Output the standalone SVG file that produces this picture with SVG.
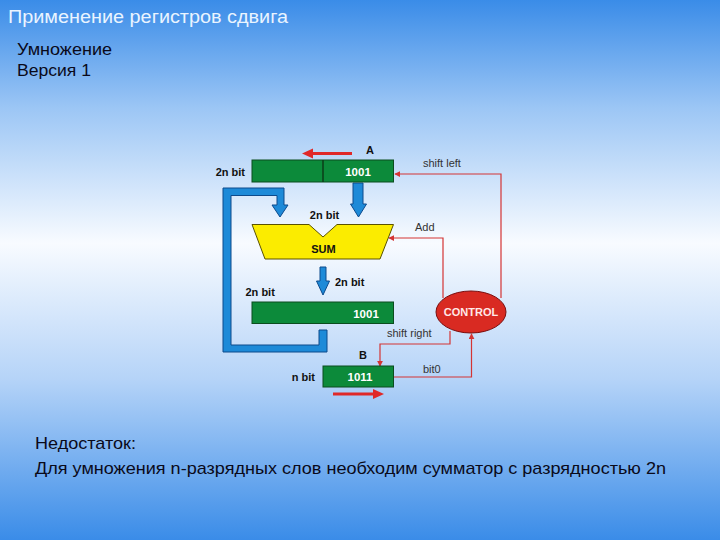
<svg xmlns="http://www.w3.org/2000/svg" width="720" height="540" viewBox="0 0 720 540">
<defs>
<linearGradient id="bg" x1="0" y1="0" x2="0" y2="1">
<stop offset="0" stop-color="#3a8ce8"/>
<stop offset="0.2" stop-color="#9cc6f5"/>
<stop offset="0.45" stop-color="#f8fbff"/>
<stop offset="0.7" stop-color="#b6d4f8"/>
<stop offset="1" stop-color="#3a8ce8"/>
</linearGradient>
<marker id="ah" viewBox="0 0 8 8" refX="7" refY="4" markerWidth="6" markerHeight="6" markerUnits="userSpaceOnUse" orient="auto">
<path d="M0,0 L8,4 L0,8 z" fill="#d43434"/>
</marker>
<style>
.lbl{font-family:"Liberation Sans",Arial,sans-serif;font-size:11px;font-weight:bold;fill:#111}
.sig{font-family:"Liberation Sans",Arial,sans-serif;font-size:11px;fill:#333}
.val{font-family:"Liberation Sans",Arial,sans-serif;font-size:11.5px;font-weight:bold;fill:#fff;text-anchor:middle}
.reg{fill:#0c8a3a;stroke:#0b4d1e;stroke-width:1}
.pipe{fill:#1d8ad8;stroke:#0c4a8c;stroke-width:1}
.wire{fill:none;stroke:#d43434;stroke-width:1.2}
.big{fill:none;stroke:#e02828;stroke-width:3}
</style>
</defs>
<rect x="0" y="0" width="720" height="540" fill="url(#bg)"/>
<text x="8" y="23" font-family="Liberation Sans,Arial,sans-serif" font-size="17.5" fill="#eaf4ff" textLength="280" lengthAdjust="spacingAndGlyphs">Применение регистров сдвига</text>
<text x="17" y="55" font-family="Liberation Sans,Arial,sans-serif" font-size="16" fill="#0a0a1a" textLength="95" lengthAdjust="spacingAndGlyphs">Умножение</text>
<text x="17" y="76" font-family="Liberation Sans,Arial,sans-serif" font-size="16" fill="#0a0a1a" textLength="74" lengthAdjust="spacingAndGlyphs">Версия 1</text>

<g id="connectors">
<path class="pipe" d="M327,330 V352 H223 V188 H284 V205 H288 L280,217 L272,205 H277 V195.5 H231 V345 H319 V330 Z"/>
<path class="pipe" d="M353,183 H363 V204 H366.5 L358.5,217 L350.5,204 H353 Z"/>
<path class="pipe" d="M320,267 H326 V281 H329.5 L323,295 L316.5,281 H320 Z"/>
<path class="wire" d="M501,298 V174 H395" marker-end="url(#ah)"/>
<path class="wire" d="M443,298 V238 H389" marker-end="url(#ah)"/>
<path class="wire" d="M450,331 V344 H380 V366" marker-end="url(#ah)"/>
<path class="wire" d="M393.5,377 H471.5 V334" marker-end="url(#ah)"/>
<line class="big" x1="352" y1="153.5" x2="311" y2="153.5"/>
<polygon points="302,153.5 313,148.5 313,158.5" fill="#e02828"/>
<line class="big" x1="333" y1="394" x2="374" y2="394"/>
<polygon points="384,394 373,389 373,399" fill="#e02828"/>
<text class="sig" x="423" y="167">shift left</text>
<text class="sig" x="415" y="231">Add</text>
<text class="sig" x="387" y="337">shift right</text>
<text class="sig" x="423" y="373">bit0</text>
</g>

<g id="regA">
<rect class="reg" x="252" y="160" width="141.5" height="22"/>
<line x1="323" y1="160" x2="323" y2="182" stroke="#0b3d18" stroke-width="1.5"/>
<text class="val" x="358" y="175.5">1001</text>
<text class="lbl" x="370" y="154" text-anchor="middle">A</text>
<text class="lbl" x="245" y="175.5" text-anchor="end">2n bit</text>
</g>

<g id="sum">
<polygon points="252,224.5 309,224.5 323,237 337,224.5 393.5,224.5 380,259 265,259" fill="#fbec00" stroke="#5a5200" stroke-width="1"/>
<text class="lbl" x="323.5" y="252.5" text-anchor="middle" font-size="12" fill="#3a3200">SUM</text>
<text class="lbl" x="324.5" y="219" text-anchor="middle">2n bit</text>
</g>

<g id="regP">
<rect class="reg" x="252" y="302" width="141.5" height="21.5"/>
<text class="val" x="366" y="317.5">1001</text>
<text class="lbl" x="335" y="285.5">2n bit</text>
<text class="lbl" x="245.5" y="296">2n bit</text>
</g>

<g id="regB">
<rect class="reg" x="323" y="366" width="70.5" height="21"/>
<text class="val" x="360" y="381">1011</text>
<text class="lbl" x="363" y="358.5" text-anchor="middle">B</text>
<text class="lbl" x="315" y="380.5" text-anchor="end">n bit</text>
</g>

<g id="control">
<ellipse cx="471" cy="312" rx="35" ry="21" fill="#d92a22" stroke="#7a0e0e" stroke-width="1"/>
<text x="471" y="316" text-anchor="middle" font-family="Liberation Sans,Arial,sans-serif" font-size="11" font-weight="bold" fill="#ffe8e8">CONTROL</text>
</g>

<text x="35" y="449" font-family="Liberation Sans,Arial,sans-serif" font-size="17" fill="#0a0a1a" textLength="101" lengthAdjust="spacingAndGlyphs">Недостаток:</text>
<text x="35" y="474" font-family="Liberation Sans,Arial,sans-serif" font-size="17" fill="#0a0a1a" textLength="631" lengthAdjust="spacingAndGlyphs">Для умножения n-разрядных слов необходим сумматор с разрядностью 2n</text>
</svg>
